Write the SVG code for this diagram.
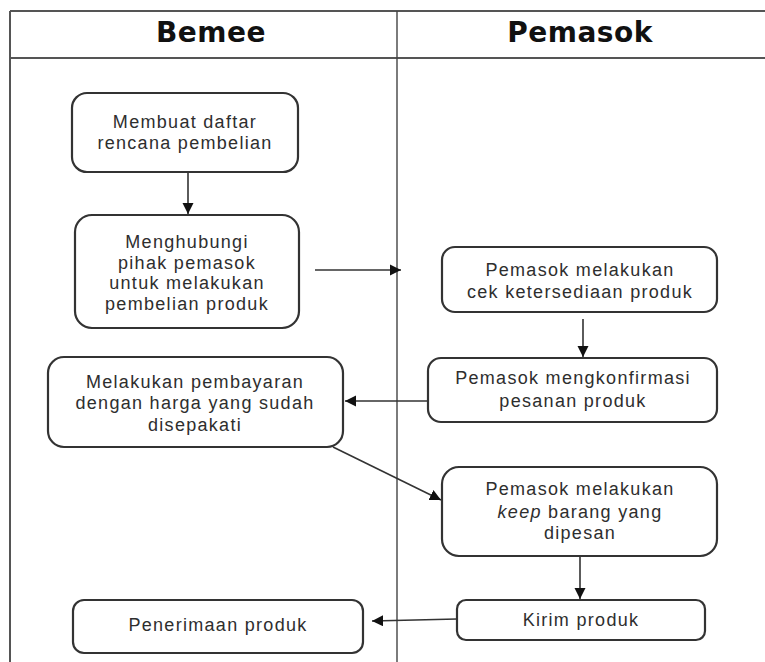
<svg xmlns="http://www.w3.org/2000/svg" width="765" height="662" viewBox="0 0 765 662">
<style>
.frame{fill:none;stroke:#555;stroke-width:2}
.div{fill:none;stroke:#444;stroke-width:1.4}
.hd{font-family:"DejaVu Sans",sans-serif;font-weight:bold;font-size:28px;letter-spacing:0.5px;fill:#111;text-anchor:middle}
.box{fill:#fff;stroke:#333;stroke-width:2.2}
.t{font-family:"Liberation Sans",Arial,sans-serif;font-size:18px;letter-spacing:1.3px;fill:#2e2e2e;text-anchor:middle}
.c{fill:none;stroke:#333;stroke-width:1.6}
</style>
<defs>
<marker id="ah" viewBox="0 0 10 10" refX="10" refY="5" markerWidth="7" markerHeight="7" markerUnits="strokeWidth" orient="auto">
<path d="M0,0 L10,5 L0,10 Z" fill="#111"/>
</marker>
</defs>
<rect width="765" height="662" fill="#fff"/>
<g id="frame">
<line class="frame" x1="10" y1="11" x2="765" y2="11"/>
<line class="frame" x1="10" y1="58" x2="765" y2="58"/>
<line class="frame" x1="10" y1="11" x2="10" y2="662"/>
<line class="div" x1="397" y1="11" x2="397" y2="662"/>
<text class="hd" x="211" y="42">Bemee</text>
<text class="hd" x="580" y="42">Pemasok</text>
</g>
<g id="connectors">
<line class="c" x1="188" y1="172" x2="188" y2="214" marker-end="url(#ah)"/>
<line class="c" x1="315" y1="270" x2="401" y2="270" marker-end="url(#ah)"/>
<line class="c" x1="583" y1="319" x2="583" y2="357" marker-end="url(#ah)"/>
<line class="c" x1="428" y1="401" x2="345" y2="401" marker-end="url(#ah)"/>
<line class="c" x1="333" y1="447" x2="441" y2="500" marker-end="url(#ah)"/>
<line class="c" x1="580" y1="556" x2="580" y2="599" marker-end="url(#ah)"/>
<polyline class="c" points="457,619 415,620 372,621" marker-end="url(#ah)"/>
</g>
<g id="n1">
<rect class="box" x="72" y="93" width="226" height="79" rx="15"/>
<text class="t" x="185" y="128">Membuat daftar</text>
<text class="t" x="185" y="149">rencana pembelian</text>
</g>
<g id="n2">
<rect class="box" x="75" y="215" width="224" height="113" rx="17"/>
<text class="t" x="187" y="248">Menghubungi</text>
<text class="t" x="187" y="269">pihak pemasok</text>
<text class="t" x="187" y="289">untuk melakukan</text>
<text class="t" x="187" y="310">pembelian produk</text>
</g>
<g id="n3">
<rect class="box" x="442" y="247" width="275" height="65" rx="13"/>
<text class="t" x="580" y="276">Pemasok melakukan</text>
<text class="t" x="580" y="298">cek ketersediaan produk</text>
</g>
<g id="n4">
<rect class="box" x="428" y="358" width="289" height="64" rx="13"/>
<text class="t" x="573" y="384">Pemasok mengkonfirmasi</text>
<text class="t" x="573" y="407">pesanan produk</text>
</g>
<g id="n5">
<rect class="box" x="48" y="357" width="295" height="90" rx="16"/>
<text class="t" x="195" y="388">Melakukan pembayaran</text>
<text class="t" x="195" y="409">dengan harga yang sudah</text>
<text class="t" x="195" y="431">disepakati</text>
</g>
<g id="n6">
<rect class="box" x="442" y="467" width="275" height="89" rx="17"/>
<text class="t" x="580" y="495">Pemasok melakukan</text>
<text class="t" x="580" y="518"><tspan font-style="italic">keep</tspan> barang yang</text>
<text class="t" x="580" y="539">dipesan</text>
</g>
<g id="n7">
<rect class="box" x="457" y="600" width="248" height="40" rx="9"/>
<text class="t" x="581" y="626">Kirim produk</text>
</g>
<g id="n8">
<rect class="box" x="73" y="600" width="290" height="53" rx="11"/>
<text class="t" x="218" y="631">Penerimaan produk</text>
</g>
</svg>
